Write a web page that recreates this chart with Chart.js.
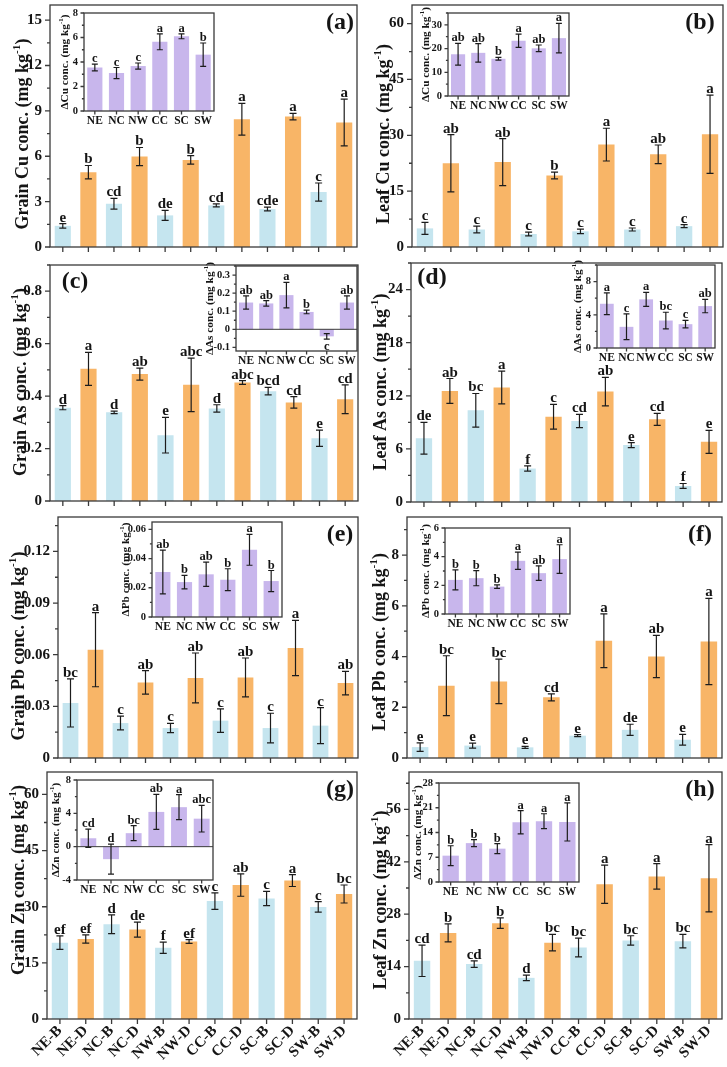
<!DOCTYPE html>
<html><head><meta charset="utf-8">
<script src="https://cdn.jsdelivr.net/npm/chart.js@4.4.1/dist/chart.umd.min.js"></script>
<style>
html,body{margin:0;padding:0;background:#fff}
body{position:relative;width:727px;height:1067px;overflow:hidden}
canvas.c{position:absolute;display:block}
</style></head><body>
<script>
// ---------------- DATA ----------------
const categories = ['NE-B','NE-D','NC-B','NC-D','NW-B','NW-D','CC-B','CC-D','SC-B','SC-D','SW-B','SW-D'];
const regions = ['NE','NC','NW','CC','SC','SW'];

// (a) Grain Cu
const grainCu    = [1.40, 4.95, 2.86, 5.98, 2.09, 5.76, 2.75, 8.45, 2.51, 8.62, 3.63, 8.23];
const grainCuErr = [0.15, 0.44, 0.35, 0.60, 0.33, 0.28, 0.10, 1.05, 0.12, 0.22, 0.60, 1.55];
const grainCuSig = ['e','b','cd','b','de','b','cd','a','cde','a','c','a'];
const grainCuTicks = [0,3,6,9,12,15];
const grainCuTickLabels = ['0','3','6','9','12','15'];
const dCuGrain    = [3.55, 3.10, 3.67, 5.65, 6.10, 4.60];
const dCuGrainErr = [0.28, 0.45, 0.25, 0.65, 0.20, 0.95];
const dCuGrainSig = ['c','c','c','a','a','b'];
const dCuGrainTicks = [0,2,4,6,8];
const dCuGrainTickLabels = ['0','2','4','6','8'];

// (b) Leaf Cu
const leafCu    = [5.0, 22.5, 4.7, 22.8, 3.5, 19.2, 4.2, 27.5, 4.7, 24.9, 5.6, 30.3];
const leafCuErr = [1.6, 7.7, 0.9, 6.3, 0.5, 0.9, 0.6, 4.4, 0.4, 2.5, 0.4, 10.5];
const leafCuSig = ['c','ab','c','ab','c','b','c','a','c','ab','c','a'];
const leafCuTicks = [0,15,30,45,60];
const leafCuTickLabels = ['0','15','30','45','60'];
const dCuLeaf    = [17.6, 18.2, 15.7, 23.3, 20.1, 24.4];
const dCuLeafErr = [4.6, 3.9, 0.6, 2.8, 1.4, 6.2];
const dCuLeafSig = ['ab','ab','b','a','ab','a'];
const dCuLeafTicks = [0,10,20,30];
const dCuLeafTickLabels = ['0','10','20','30'];

// (c) Grain As
const grainAs    = [0.356, 0.504, 0.338, 0.484, 0.251, 0.443, 0.353, 0.452, 0.419, 0.376, 0.239, 0.388];
const grainAsErr = [0.008, 0.063, 0.005, 0.023, 0.068, 0.102, 0.014, 0.007, 0.014, 0.022, 0.031, 0.055];
const grainAsSig = ['d','a','d','ab','e','abc','d','abc','bcd','cd','e','cd'];
const grainAsTicks = [0,0.2,0.4,0.6,0.8];
const grainAsTickLabels = ['0','0.2','0.4','0.6','0.8'];
const dAsGrain    = [0.148, 0.143, 0.189, 0.096, -0.039, 0.148];
const dAsGrainErr = [0.037, 0.015, 0.070, 0.010, 0.015, 0.037];
const dAsGrainSig = ['ab','ab','a','b','c','ab'];
const dAsGrainTicks = [-0.1,0,0.1,0.2,0.3];
const dAsGrainTickLabels = ['-0.1','0','0.1','0.2','0.3'];

// (d) Leaf As
const leafAs    = [7.2, 12.55, 10.36, 12.93, 3.78, 9.64, 9.15, 12.47, 6.43, 9.34, 1.81, 6.8];
const leafAsErr = [1.8, 1.4, 1.9, 1.85, 0.3, 1.4, 0.75, 1.6, 0.28, 0.68, 0.28, 1.3];
const leafAsSig = ['de','ab','bc','a','f','c','cd','ab','e','cd','f','e'];
const leafAsTicks = [0,6,12,18,24];
const leafAsTickLabels = ['0','6','12','18','24'];
const dAsLeaf    = [5.33, 2.55, 5.86, 3.31, 2.87, 5.05];
const dAsLeafErr = [1.3, 1.55, 0.85, 1.0, 0.45, 0.8];
const dAsLeafSig = ['a','c','a','bc','c','ab'];
const dAsLeafTicks = [0,4,8];
const dAsLeafTickLabels = ['0','4','8'];

// (e) Grain Pb
const grainPb    = [0.032, 0.0629, 0.0203, 0.0439, 0.0174, 0.0465, 0.0217, 0.0468, 0.0174, 0.0639, 0.0188, 0.0435];
const grainPbErr = [0.014, 0.0215, 0.004, 0.0068, 0.0027, 0.0145, 0.0068, 0.0113, 0.0086, 0.016, 0.0105, 0.0068];
const grainPbSig = ['bc','a','c','ab','c','ab','c','ab','c','a','c','ab'];
const grainPbTicks = [0,0.03,0.06,0.09,0.12];
const grainPbTickLabels = ['0','0.03','0.06','0.09','0.12'];
const dPbGrain    = [0.0308, 0.0239, 0.0292, 0.0255, 0.046, 0.0246];
const dPbGrainErr = [0.015, 0.0046, 0.0083, 0.0075, 0.0106, 0.0072];
const dPbGrainSig = ['ab','b','ab','b','a','b'];
const dPbGrainTicks = [0,0.02,0.04,0.06];
const dPbGrainTickLabels = ['0','0.02','0.04','0.06'];

// (f) Leaf Pb
const leafPb    = [0.43, 2.85, 0.49, 3.02, 0.42, 2.39, 0.88, 4.62, 1.11, 4.0, 0.72, 4.59];
const leafPbErr = [0.17, 1.18, 0.10, 0.88, 0.04, 0.14, 0.04, 1.06, 0.22, 0.83, 0.21, 1.7];
const leafPbSig = ['e','bc','e','bc','e','cd','e','a','de','ab','e','a'];
const leafPbTicks = [0,2,4,6,8];
const leafPbTickLabels = ['0','2','4','6','8'];
const dPbLeaf    = [2.38, 2.5, 1.91, 3.71, 2.85, 3.83];
const dPbLeafErr = [0.7, 0.53, 0.12, 0.6, 0.51, 1.0];
const dPbLeafSig = ['b','b','b','a','ab','a'];
const dPbLeafTicks = [0,2,4,6];
const dPbLeafTickLabels = ['0','2','4','6'];

// (g) Grain Zn
const grainZn    = [20.4, 21.4, 25.3, 23.9, 19.05, 20.7, 31.5, 35.8, 32.2, 37.0, 29.95, 33.4];
const grainZnErr = [1.8, 1.1, 2.5, 2.0, 1.5, 0.5, 2.2, 3.0, 1.9, 1.6, 1.4, 2.4];
const grainZnSig = ['ef','ef','d','de','f','ef','c','ab','c','a','c','bc'];
const grainZnTicks = [0,15,30,45,60];
const grainZnTickLabels = ['0','15','30','45','60'];
const dZnGrain    = [1.01, -1.5, 1.62, 4.17, 4.74, 3.36];
const dZnGrainErr = [1.1, 1.8, 0.9, 2.1, 1.5, 1.6];
const dZnGrainSig = ['cd','d','bc','ab','a','abc'];
const dZnGrainTicks = [-4,0,4,8];
const dZnGrainTickLabels = ['-4','0','4','8'];

// (h) Leaf Zn
const leafZn    = [15.56, 23.0, 14.67, 25.6, 11.0, 20.4, 19.1, 36.0, 21.0, 38.1, 20.8, 37.6];
const leafZnErr = [4.2, 2.4, 0.85, 1.4, 0.75, 2.2, 2.5, 5.1, 1.25, 3.4, 1.8, 9.0];
const leafZnSig = ['cd','b','cd','b','d','bc','bc','a','bc','a','bc','a'];
const leafZnTicks = [0,14,28,42,56];
const leafZnTickLabels = ['0','14','28','42','56'];
const dZnLeaf    = [7.45, 11.0, 9.43, 16.9, 17.2, 17.0];
const dZnLeafErr = [2.8, 1.0, 1.4, 3.3, 2.1, 5.4];
const dZnLeafSig = ['b','b','b','a','a','a'];
const dZnLeafTicks = [0,7,14,21,28];
const dZnLeafTickLabels = ['0','7','14','21','28'];

// ---------------- STYLE ----------------
const SERIF = '"Liberation Serif", "Times New Roman", serif';
const BLUE = '#c5e5ef', ORANGE = '#f8b567', PURPLE = '#c8b6ec';
const INK = '#151515', FRAME = '#3a3a3a';
const mainColors = categories.map(c => c.endsWith('-B') ? BLUE : ORANGE);

function minorList(ticks, step, min, max){
  const out = [];
  for (let k = Math.ceil(min/step - 1e-9); k*step <= max + 1e-9; k++){
    const v = k*step;
    if (!ticks.some(t => Math.abs(t - v) < step*0.01)) out.push(v);
  }
  return out;
}

function drawYTitle(ctx, x, y, parts, size){
  ctx.save();
  ctx.translate(x, y); ctx.rotate(-Math.PI/2);
  const f1 = `bold ${size}px ${SERIF}`, f2 = `bold ${(size*0.62).toFixed(1)}px ${SERIF}`;
  ctx.font = f1; const w1 = ctx.measureText(parts[0]).width, w3 = ctx.measureText(parts[2]).width;
  ctx.font = f2; const w2 = ctx.measureText(parts[1]).width;
  let px = -(w1 + w2 + w3)/2;
  const base = size*0.33;
  ctx.fillStyle = INK; ctx.textAlign = 'left'; ctx.textBaseline = 'alphabetic';
  ctx.font = f1; ctx.fillText(parts[0], px, base); px += w1;
  ctx.font = f2; ctx.fillText(parts[1], px, base - size*0.45); px += w2;
  ctx.font = f1; ctx.fillText(parts[2], px, base);
  ctx.restore();
}

function build(o){
  const cv = document.createElement('canvas');
  cv.className = 'c';
  cv.width = o.cw; cv.height = o.ch;
  cv.style.left = o.cx + 'px'; cv.style.top = o.cy + 'px';
  cv.style.width = o.cw + 'px'; cv.style.height = o.ch + 'px';
  document.body.appendChild(cv);
  const minors = minorList(o.ticks, o.minor, o.min, o.max);
  const decor = {
    id: 'decor',
    afterDatasetsDraw(chart){
      const ctx = chart.ctx, a = chart.chartArea, xs = chart.scales.x, ys = chart.scales.y;
      const meta = chart.getDatasetMeta(0);
      ctx.save();
      if (o.min < 0){
        const y0 = ys.getPixelForValue(0);
        ctx.strokeStyle = FRAME; ctx.lineWidth = 1;
        ctx.beginPath(); ctx.moveTo(a.left, y0); ctx.lineTo(a.right, y0); ctx.stroke();
      }
      ctx.strokeStyle = '#1c1c1c'; ctx.lineWidth = 1.2;
      ctx.fillStyle = INK; ctx.font = `bold ${o.sigSize}px ${SERIF}`; ctx.textAlign = 'center';
      o.vals.forEach((v, i) => {
        const px = meta.data[i].x, e = o.errs[i];
        const yt = ys.getPixelForValue(v + e), yb = ys.getPixelForValue(v - e);
        ctx.beginPath();
        ctx.moveTo(px, yt); ctx.lineTo(px, yb);
        ctx.moveTo(px - o.cap, yt); ctx.lineTo(px + o.cap, yt);
        ctx.moveTo(px - o.cap, yb); ctx.lineTo(px + o.cap, yb);
        ctx.stroke();
        if (v < 0 && v + e < 0){ ctx.textBaseline = 'top'; ctx.fillText(o.sig[i], px, yb + 1); }
        else { ctx.textBaseline = 'alphabetic'; ctx.fillText(o.sig[i], px, yt - 2); }
      });
      ctx.strokeStyle = FRAME; ctx.lineWidth = 1.3;
      ctx.strokeRect(a.left, a.top, a.right - a.left, a.bottom - a.top);
      ctx.beginPath();
      o.ticks.forEach(t => { const py = ys.getPixelForValue(t); ctx.moveTo(a.left - o.tl, py); ctx.lineTo(a.left, py); });
      minors.forEach(t => { const py = ys.getPixelForValue(t); ctx.moveTo(a.left - o.tl*0.6, py); ctx.lineTo(a.left, py); });
      o.labels.forEach((l, i) => { const px = xs.getPixelForValue(i); ctx.moveTo(px, a.bottom); ctx.lineTo(px, a.bottom + o.tl); });
      ctx.stroke();
      ctx.restore();
    },
    afterDraw(chart){
      const ctx = chart.ctx, a = chart.chartArea;
      drawYTitle(ctx, o.titleX - o.cx, (o.titleY !== undefined ? o.titleY - o.cy : (a.top + a.bottom)/2), o.title, o.titleSize);
      if (o.tag){
        ctx.save();
        ctx.fillStyle = INK; ctx.font = `bold 24px ${SERIF}`;
        ctx.textAlign = 'center'; ctx.textBaseline = 'middle';
        ctx.fillText(o.tag, o.tagX - o.cx, o.tagY - o.cy);
        ctx.restore();
      }
    }
  };
  new Chart(cv, {
    type: 'bar',
    data: { labels: o.labels, datasets: [{ data: o.vals, backgroundColor: o.colors, borderWidth: 0,
      barPercentage: o.barPct, categoryPercentage: 1 }] },
    options: {
      responsive: false, animation: false, events: [],
      layout: { padding: { left: 0, top: o.T - o.cy, right: o.cx + o.cw - o.R, bottom: 0 } },
      plugins: { legend: { display: false }, tooltip: { enabled: false }, title: { display: false } },
      scales: {
        x: {
          type: 'category', offset: true,
          grid: { display: false, drawTicks: false }, border: { display: false },
          ticks: { display: o.showX, autoSkip: false, maxRotation: o.rot, minRotation: o.rot,
            padding: o.xPad, color: INK, font: { family: SERIF, size: o.xSize, weight: 'bold' } },
          afterFit: s => { s.height = o.cy + o.ch - o.B; s.paddingLeft = 0; s.paddingRight = 0; }
        },
        y: {
          type: 'linear', min: o.min, max: o.max,
          grid: { display: false, drawTicks: false }, border: { display: false },
          afterBuildTicks: s => { s.ticks = o.ticks.map(v => ({ value: v })); },
          ticks: { autoSkip: false, padding: o.yPad, color: INK,
            font: { family: SERIF, size: o.ySize, weight: 'bold' },
            callback: (v, i) => o.tickLabels[i] },
          afterFit: s => { s.width = o.L - o.cx; s.paddingTop = 0; s.paddingBottom = 0; }
        }
      }
    },
    plugins: [decor]
  });
}

function mainPanel(p){
  const bottomExtra = p.showX ? 50 : 8;
  build(Object.assign({
    cx: p.col, cy: p.T - 6, cw: p.R - p.col + 4, ch: p.B - (p.T - 6) + bottomExtra,
    labels: categories, colors: mainColors, barPct: 0.63,
    sigSize: 15, cap: 3.5, tl: 5, yPad: 8, ySize: 15, xSize: 15, xPad: 3,
    rot: 45, titleSize: 18
  }, p));
}
function insetPanel(p){
  build(Object.assign({
    cx: p.L - 40, cy: p.T - 7, cw: p.R - (p.L - 40) + 3, ch: p.B - (p.T - 7) + 18,
    labels: regions, colors: regions.map(() => PURPLE), barPct: 0.7,
    sigSize: 12.5, cap: 3, tl: 3.5, yPad: 6, ySize: 10.5, xSize: 11.5, xPad: 3,
    rot: 0, showX: true, titleSize: 11.3
  }, p));
}

// ---------------- PANELS ----------------
mainPanel({col:0, L:50, T:5, R:357, B:247, vals:grainCu, errs:grainCuErr, sig:grainCuSig, min:0, max:16, minor:1.5,
  ticks:grainCuTicks, tickLabels:grainCuTickLabels, title:['Grain Cu conc. (mg kg','-1',')'], titleX:22, titleY:134,
  tag:'(a)', tagX:340, tagY:23, showX:false});
mainPanel({col:362, L:412, T:5, R:723, B:247, vals:leafCu, errs:leafCuErr, sig:leafCuSig, min:0, max:65, minor:7.5,
  ticks:leafCuTicks, tickLabels:leafCuTickLabels, title:['Leaf Cu conc. (mg kg','-1',')'], titleX:383, titleY:134,
  tag:'(b)', tagX:700, tagY:23, showX:false});
mainPanel({col:0, L:50, T:265, R:358, B:501, vals:grainAs, errs:grainAsErr, sig:grainAsSig, min:0, max:0.9, minor:0.1,
  ticks:grainAsTicks, tickLabels:grainAsTickLabels, title:['Grain As conc. (mg kg','-1',')'], titleX:20, titleY:382,
  tag:'(c)', tagX:75, tagY:282, showX:false});
mainPanel({col:362, L:411, T:263, R:722, B:502, vals:leafAs, errs:leafAsErr, sig:leafAsSig, min:0, max:27, minor:3,
  ticks:leafAsTicks, tickLabels:leafAsTickLabels, title:['Leaf As conc. (mg kg','-1',')'], titleX:380, titleY:382,
  tag:'(d)', tagX:432, tagY:278, showX:false});
mainPanel({col:0, L:58, T:517, R:358, B:758, vals:grainPb, errs:grainPbErr, sig:grainPbSig, min:0, max:0.14, minor:0.015,
  ticks:grainPbTicks, tickLabels:grainPbTickLabels, title:['Grain Pb conc. (mg kg','-1',')'], titleX:18, titleY:646,
  tag:'(e)', tagX:340, tagY:535, showX:false});
mainPanel({col:362, L:407, T:517, R:722, B:758, vals:leafPb, errs:leafPbErr, sig:leafPbSig, min:0, max:9.5, minor:1,
  ticks:leafPbTicks, tickLabels:leafPbTickLabels, title:['Leaf Pb conc. (mg kg','-1',')'], titleX:379, titleY:642,
  tag:'(f)', tagX:700, tagY:535, showX:false});
mainPanel({col:0, L:47, T:772, R:357, B:1019, vals:grainZn, errs:grainZnErr, sig:grainZnSig, min:0, max:66, minor:7.5,
  ticks:grainZnTicks, tickLabels:grainZnTickLabels, title:['Grain Zn conc. (mg kg','-1',')'], titleX:18, titleY:880,
  tag:'(g)', tagX:340, tagY:790, showX:true});
mainPanel({col:362, L:409, T:772, R:722, B:1019, vals:leafZn, errs:leafZnErr, sig:leafZnSig, min:0, max:66, minor:7,
  ticks:leafZnTicks, tickLabels:leafZnTickLabels, title:['Leaf Zn conc. (mg kg','-1',')'], titleX:380, titleY:900,
  tag:'(h)', tagX:700, tagY:790, showX:true});

insetPanel({L:84, T:13, R:214, B:111, vals:dCuGrain, errs:dCuGrainErr, sig:dCuGrainSig, min:0, max:8, minor:1,
  ticks:dCuGrainTicks, tickLabels:dCuGrainTickLabels, title:['\u0394Cu conc. (mg kg','-1',')'], titleX:64});
insetPanel({L:448, T:13, R:569, B:96, vals:dCuLeaf, errs:dCuLeafErr, sig:dCuLeafSig, min:0, max:35, minor:5,
  ticks:dCuLeafTicks, tickLabels:dCuLeafTickLabels, title:['\u0394Cu conc. (mg kg','-1',')'], titleX:425});
insetPanel({L:236, T:266, R:357, B:351, vals:dAsGrain, errs:dAsGrainErr, sig:dAsGrainSig, min:-0.12, max:0.35, minor:0.05,
  ticks:dAsGrainTicks, tickLabels:dAsGrainTickLabels, title:['\u0394As conc. (mg kg','-1',')'], titleX:209});
insetPanel({L:597, T:265, R:715, B:348, vals:dAsLeaf, errs:dAsLeafErr, sig:dAsLeafSig, min:0, max:10, minor:2,
  ticks:dAsLeafTicks, tickLabels:dAsLeafTickLabels, title:['\u0394As conc. (mg kg','-1',')'], titleX:577});
insetPanel({L:152, T:522, R:282, B:617, vals:dPbGrain, errs:dPbGrainErr, sig:dPbGrainSig, min:0, max:0.065, minor:0.01,
  ticks:dPbGrainTicks, tickLabels:dPbGrainTickLabels, title:['\u0394Pb conc. (mg kg','-1',')'], titleX:125});
insetPanel({L:445, T:528, R:570, B:614, vals:dPbLeaf, errs:dPbLeafErr, sig:dPbLeafSig, min:0, max:6, minor:1,
  ticks:dPbLeafTicks, tickLabels:dPbLeafTickLabels, title:['\u0394Pb conc. (mg kg','-1',')'], titleX:425});
insetPanel({L:77, T:780, R:213, B:880, vals:dZnGrain, errs:dZnGrainErr, sig:dZnGrainSig, min:-4, max:8, minor:2,
  ticks:dZnGrainTicks, tickLabels:dZnGrainTickLabels, title:['\u0394Zn conc. (mg kg','-1',')'], titleX:55});
insetPanel({L:439, T:783, R:579, B:882, vals:dZnLeaf, errs:dZnLeafErr, sig:dZnLeafSig, min:0, max:28, minor:3.5,
  ticks:dZnLeafTicks, tickLabels:dZnLeafTickLabels, title:['\u0394Zn conc. (mg kg','-1',')'], titleX:417});
</script>
</body></html>
